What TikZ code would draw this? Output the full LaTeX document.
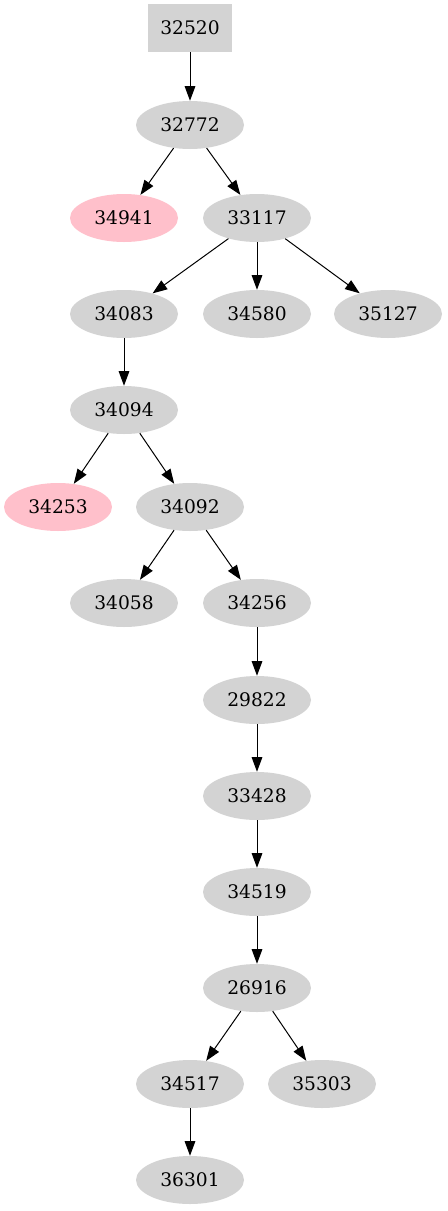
\documentclass[tikz,border=0pt]{standalone}
\usepackage{fontspec}
\setmainfont{DejaVu Serif}
\usetikzlibrary{arrows.meta,shapes.geometric}
\definecolor{lgray}{HTML}{D3D3D3}
\definecolor{gvpink}{HTML}{FFC0CB}
\begin{document}
\begin{tikzpicture}[x=0.75pt,y=-0.75pt,
  every node/.style={font=\fontsize{14pt}{16pt}\selectfont, inner sep=0pt},
  nd/.style={ellipse, fill=lgray, minimum width=81pt, minimum height=36pt},
  pk/.style={ellipse, fill=gvpink, minimum width=81pt, minimum height=36pt},
  bx/.style={rectangle, fill=lgray, minimum width=63.5pt, minimum height=36pt},
  edge/.style={draw=black, line width=0.75pt, -{Triangle[length=11pt,width=8pt]}}]
\useasboundingbox (0,0) rectangle (447,1211);
\node[bx] (n32520) at (190,28) {32520};
\node[nd] (n32772) at (190,125) {32772};
\node[pk] (n34941) at (124,218) {34941};
\node[nd] (n33117) at (257,218) {33117};
\node[nd] (n34083) at (124,314) {34083};
\node[nd] (n34580) at (257,314) {34580};
\node[nd] (n35127) at (388,314) {35127};
\node[nd] (n34094) at (124,410) {34094};
\node[pk] (n34253) at (58,507) {34253};
\node[nd] (n34092) at (190,507) {34092};
\node[nd] (n34058) at (124,603) {34058};
\node[nd] (n34256) at (257,603) {34256};
\node[nd] (n29822) at (257,700) {29822};
\node[nd] (n33428) at (257,796) {33428};
\node[nd] (n34519) at (257,892) {34519};
\node[nd] (n26916) at (257,988) {26916};
\node[nd] (n34517) at (190,1084) {34517};
\node[nd] (n35303) at (322,1084) {35303};
\node[nd] (n36301) at (190,1180) {36301};
\path[edge] (n32520) -- (n32772);
\path[edge] (n32772) -- (n34941);
\path[edge] (n32772) -- (n33117);
\path[edge] (n33117) -- (n34083);
\path[edge] (n33117) -- (n34580);
\path[edge] (n33117) -- (n35127);
\path[edge] (n34083) -- (n34094);
\path[edge] (n34094) -- (n34253);
\path[edge] (n34094) -- (n34092);
\path[edge] (n34092) -- (n34058);
\path[edge] (n34092) -- (n34256);
\path[edge] (n34256) -- (n29822);
\path[edge] (n29822) -- (n33428);
\path[edge] (n33428) -- (n34519);
\path[edge] (n34519) -- (n26916);
\path[edge] (n26916) -- (n34517);
\path[edge] (n26916) -- (n35303);
\path[edge] (n34517) -- (n36301);
\end{tikzpicture}
\end{document}
